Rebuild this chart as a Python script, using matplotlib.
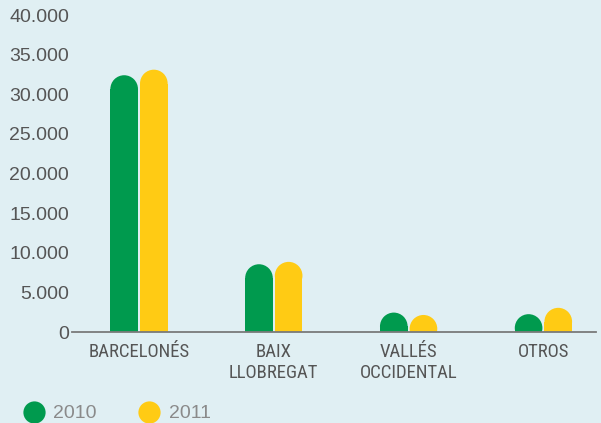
import matplotlib.pyplot as plt
from matplotlib.patches import Ellipse
from matplotlib.lines import Line2D
import numpy as np

categories = ["BARCELONÉS", "BAIX\nLLOBREGAT", "VALLÉS\nOCCIDENTAL", "OTROS"]
years = ["2010", "2011"]
values_2010 = [32400, 8550, 2450, 2250]
values_2011 = [33100, 8850, 2150, 3050]
yticks = [0, 5000, 10000, 15000, 20000, 25000, 30000, 35000, 40000]

bg = "#e0eff3"
colors = ["#009a4e", "#ffcb14"]

fig = plt.figure(figsize=(6.01, 4.23), dpi=100, facecolor=bg)
ax = fig.add_axes([72 / 601, 91 / 423, 524 / 601, 317 / 423])
ax.set_facecolor(bg)
ax.set_xlim(-0.497, 3.39)
ax.set_ylim(0, 40000)

x = np.arange(len(categories))
width = 0.205
offset = 0.11

# data units per pixel, used to make the round caps circular
bbox = ax.get_window_extent()
px_x = bbox.width / (ax.get_xlim()[1] - ax.get_xlim()[0])
px_y = bbox.height / (ax.get_ylim()[1] - ax.get_ylim()[0])
cap_h = (width / 2) * px_x / px_y

for vals, dx, col in [(values_2010, -offset, colors[0]), (values_2011, offset, colors[1])]:
    for xi, v in zip(x, vals):
        ax.bar(xi + dx, v - cap_h, width=width, color=col, linewidth=0)
        ax.add_patch(Ellipse((xi + dx, v - cap_h), width, 2 * cap_h,
                             facecolor=col, edgecolor="none"))

for s in ["top", "right", "left"]:
    ax.spines[s].set_visible(False)
ax.spines["bottom"].set_color("#7a7a7a")
ax.spines["bottom"].set_linewidth(1.3)

ax.set_yticks(yticks)
ax.set_yticklabels([f"{v:,}".replace(",", ".") for v in yticks],
                   fontsize=14, color="#555555", family="Liberation Sans")
ax.tick_params(axis="y", length=0, pad=2)
ax.set_xticks(x)
ax.set_xticklabels(categories, fontsize=13.5, color="#555555",
                   family=["Roboto Condensed", "Liberation Sans"], linespacing=1.2)
ax.tick_params(axis="x", length=0, pad=8)

handles = [Line2D([], [], marker="o", linestyle="none", markersize=16,
                  markerfacecolor=c, markeredgecolor="none") for c in colors]
leg = fig.legend(handles, years, loc="lower left", bbox_to_anchor=(-0.005, -0.04),
                 ncol=2, frameon=False, handletextpad=0.0, columnspacing=1.7,
                 prop={"family": "Liberation Sans", "size": 14})
for t in leg.get_texts():
    t.set_color("#8a8a8a")

fig.savefig("out.png", dpi=100, facecolor=bg)
